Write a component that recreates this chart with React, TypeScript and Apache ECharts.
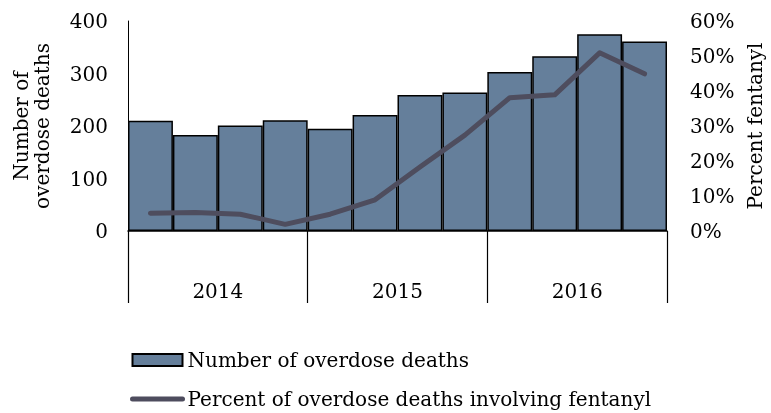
import React, { useEffect, useRef } from "react";
import * as echarts from "echarts";

const quarters = ["2014 Q1", "2014 Q2", "2014 Q3", "2014 Q4", "2015 Q1", "2015 Q2", "2015 Q3", "2015 Q4", "2016 Q1", "2016 Q2", "2016 Q3", "2016 Q4"];
const years = ["2014", "2015", "2016"];
const deaths = [210, 183, 201, 211, 195, 221, 259, 264, 303, 333, 375, 361];
const pctFentanyl = [0.051, 0.053, 0.048, 0.019, 0.048, 0.089, 0.183, 0.274, 0.381, 0.389, 0.509, 0.449];
const leftTicks = [0, 100, 200, 300, 400];
const rightTicks = [0, 0.1, 0.2, 0.3, 0.4, 0.5, 0.6];

const FONT = "DejaVu Serif";
const FS = 20;

export default function App() {
  const ref = useRef<HTMLDivElement>(null);
  useEffect(() => {
    if (!ref.current) return;
    const chart = echarts.init(ref.current, null, { renderer: "svg" });
    chart.setOption({
      animation: false,
      textStyle: { fontFamily: FONT, color: "#000" },
      grid: { left: 128, right: 104, top: 21, bottom: 182, outerBoundsMode: "none", containLabel: false },
      legend: {
        orient: "vertical",
        left: 125,
        bottom: 0,
        padding: [5, 5, 4, 5],
        itemWidth: 50,
        itemHeight: 12,
        itemGap: 19,
        textStyle: { fontFamily: FONT, fontSize: FS, color: "#000" },
        data: [
          { name: "Number of overdose deaths", icon: "rect" },
          {
            name: "Percent of overdose deaths involving fentanyl",
            itemStyle: { opacity: 0 },
            lineStyle: { width: 5, cap: "round" },
          },
        ],
      },
      xAxis: [
        {
          type: "category",
          data: quarters,
          position: "bottom",
          axisLine: { show: true, lineStyle: { color: "#000", width: 1.5 } },
          axisTick: { show: false },
          axisLabel: { show: false },
        },
        {
          type: "category",
          data: years,
          position: "bottom",
          axisLine: { show: false },
          axisTick: { show: true, length: 72, lineStyle: { color: "#000", width: 1.2 } },
          axisLabel: { margin: 50, fontFamily: FONT, fontSize: FS, color: "#000" },
        },
      ],
      yAxis: [
        {
          type: "value",
          min: leftTicks[0],
          max: leftTicks[leftTicks.length - 1],
          interval: 100,
          name: "Number of\noverdose deaths",
          nameLocation: "middle",
          nameRotate: 90,
          nameGap: 76,
          nameTextStyle: { fontFamily: FONT, fontSize: FS, color: "#000", lineHeight: 21 },
          axisLine: { show: true, lineStyle: { color: "#000", width: 1 } },
          axisTick: { show: false },
          splitLine: { show: false },
          axisLabel: { margin: 20, fontFamily: FONT, fontSize: FS, color: "#000" },
        },
        {
          type: "value",
          min: rightTicks[0],
          max: rightTicks[rightTicks.length - 1],
          interval: 0.1,
          name: "Percent fentanyl",
          nameLocation: "middle",
          nameRotate: 90,
          nameGap: 76,
          nameTextStyle: { fontFamily: FONT, fontSize: FS, color: "#000" },
          axisLine: { show: false },
          axisTick: { show: false },
          splitLine: { show: false },
          axisLabel: {
            margin: 23,
            fontFamily: FONT,
            fontSize: FS,
            color: "#000",
            formatter: (v: number) => Math.round(v * 100) + "%",
          },
        },
      ],
      series: [
        {
          name: "Number of overdose deaths",
          type: "bar",
          data: deaths,
          xAxisIndex: 0,
          yAxisIndex: 0,
          barCategoryGap: "0%",
          itemStyle: { color: "#657f9b", borderColor: "#000", borderWidth: 1.5 },
        },
        {
          name: "Percent of overdose deaths involving fentanyl",
          type: "line",
          data: pctFentanyl,
          xAxisIndex: 0,
          yAxisIndex: 1,
          symbol: "none",
          lineStyle: { color: "#4e4d5e", width: 5, cap: "round", join: "round" },
          itemStyle: { color: "#4e4d5e" },
        },
      ],
    });
    return () => chart.dispose();
  }, []);
  return <div ref={ref} style={{ position: "fixed", left: 0, top: 0, width: 771, height: 413 }} />;
}
